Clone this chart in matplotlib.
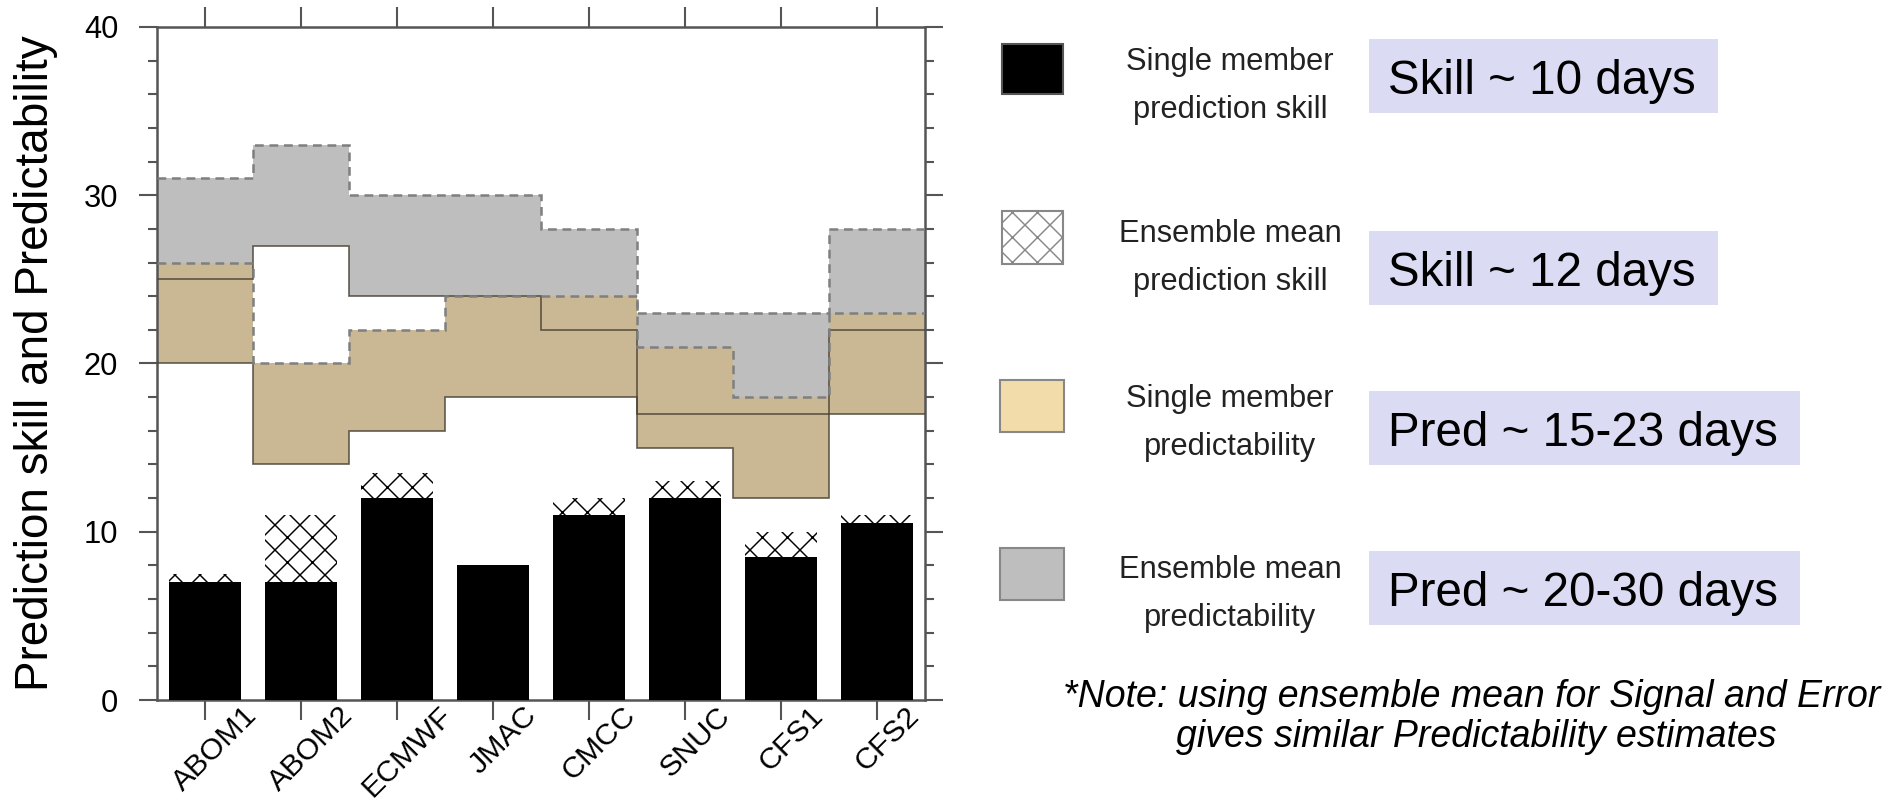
import numpy as np
import matplotlib
matplotlib.use("Agg")
import matplotlib.pyplot as plt
from matplotlib.patches import Rectangle
from matplotlib.ticker import MultipleLocator, FixedLocator
from matplotlib.transforms import ScaledTranslation

plt.rcParams['font.family'] = ['Liberation Sans', 'DejaVu Sans']
plt.rcParams['hatch.linewidth'] = 0.7

# ---------------- data ----------------
categories = ['ABOM1', 'ABOM2', 'ECMWF', 'JMAC', 'CMCC', 'SNUC', 'CFS1', 'CFS2']
sm_skill = [7, 7, 12, 8, 11, 12, 8.5, 10.5]          # single member prediction skill
em_skill = [7.5, 11, 13.5, 8, 12, 13, 10, 11]        # ensemble mean prediction skill
sm_pred_low = [20, 14, 16, 18, 18, 15, 12, 17]       # single member predictability (low)
sm_pred_up = [25, 27, 24, 24, 22, 17, 17, 22]        # single member predictability (high)
em_pred_low = [26, 20, 22, 24, 24, 21, 18, 23]       # ensemble mean predictability (low)
em_pred_up = [31, 33, 30, 30, 28, 23, 23, 28]        # ensemble mean predictability (high)

legend_labels = [('Single member', 'prediction skill'),
                 ('Ensemble mean', 'prediction skill'),
                 ('Single member', 'predictability'),
                 ('Ensemble mean', 'predictability')]
box_texts = ['Skill ~ 10 days', 'Skill ~ 12 days', 'Pred ~ 15-23 days', 'Pred ~ 20-30 days']
note_lines = ['*Note: using ensemble mean for Signal and Error',
              'gives similar Predictability estimates']
ylabel = 'Prediction skill and Predictability'

# ---------------- style ----------------
GRAY = '#bebebe'
TAN = '#c9b893'
TAN_LEG = '#f2dcaa'
SPINE = '#555555'
DPI = 150
W, H = 1900, 806

fig = plt.figure(figsize=(W / DPI, H / DPI), dpi=DPI)
ax = fig.add_axes([157 / W, 106 / H, 768 / W, 673 / H])

x = np.arange(1, len(categories) + 1)
edges = np.arange(0.5, len(categories) + 1, 1.0)

# bands
ax.stairs(em_pred_up, edges, baseline=sm_pred_up, fill=True, color=GRAY, lw=0, zorder=1)
ax.stairs(em_pred_low, edges, baseline=sm_pred_low, fill=True, color=TAN, lw=0, zorder=2)

dash = (0, (3.5, 2.3))
ax.stairs(em_pred_up, edges, baseline=None, color='#7f7f7f', lw=1.2, ls=dash, zorder=4)
ax.stairs(em_pred_low, edges, baseline=None, color='#7f7f7f', lw=1.2, ls=dash, zorder=4)
ax.stairs(sm_pred_up, edges, baseline=None, color='#4a4233', lw=0.8, alpha=0.85, zorder=3)
ax.stairs(sm_pred_low, edges, baseline=None, color='#4a4233', lw=0.8, alpha=0.85, zorder=3)

# bars
bw = 0.76
ax.bar(x, sm_skill, width=bw, color='black', lw=0, zorder=5)
ax.bar(x, np.array(em_skill) - np.array(sm_skill), bottom=sm_skill, width=bw,
       facecolor='white', edgecolor='black', hatch='xx', lw=0, zorder=5)

ax.set_xlim(0.5, len(categories) + 0.5)
ax.set_ylim(0, 40)
ax.xaxis.set_major_locator(FixedLocator(x))
ax.set_xticks(x)
ax.set_xticklabels(categories, rotation=45, ha='center', va='top', fontsize=14.6)
ax.yaxis.set_major_locator(MultipleLocator(10))
ax.yaxis.set_minor_locator(MultipleLocator(2))
ax.tick_params(axis='y', which='major', left=True, right=True, direction='out',
               length=8.6, width=1.0, color=SPINE, labelsize=14.8, pad=10)
ax.tick_params(axis='y', which='minor', left=True, right=True, direction='out',
               length=4.3, width=1.0, color=SPINE)
ax.tick_params(axis='x', which='major', top=True, bottom=True, direction='out',
               length=9.6, width=1.0, color=SPINE, pad=-9)
for s in ax.spines.values():
    s.set_color(SPINE)
    s.set_linewidth(1.2)
off = ScaledTranslation(10 / DPI, 0, fig.dpi_scale_trans)
for lab in ax.get_xticklabels():
    lab.set_transform(lab.get_transform() + off)

fig.text(36 / W, 1 - 363 / H, ylabel, rotation=90, ha='center', va='center', fontsize=22)

# ---------------- legend / annotation overlay ----------------
lax = fig.add_axes([0, 0, 1, 1])
lax.set_xlim(0, W)
lax.set_ylim(H, 0)
lax.axis('off')

sw = [dict(xy=(1002, 44), w=61, h=50, fc='black', ec='#555555', hatch=None),
      dict(xy=(1002, 211), w=61, h=53, fc='white', ec='#888888', hatch='xx'),
      dict(xy=(1000, 380), w=64, h=52, fc=TAN_LEG, ec='#888888', hatch=None),
      dict(xy=(1000, 548), w=64, h=52, fc=GRAY, ec='#888888', hatch=None)]
for s in sw:
    lax.add_patch(Rectangle(s['xy'], s['w'], s['h'], facecolor=s['fc'], edgecolor=s['ec'],
                            hatch=s['hatch'], lw=1.0))

base1 = [70, 242, 407, 578]
for (l1, l2), b in zip(legend_labels, base1):
    lax.text(1230, b, l1, ha='center', va='baseline', fontsize=14.8, color='#222222')
    lax.text(1230, b + 48, l2, ha='center', va='baseline', fontsize=14.8, color='#222222')

boxes = [(1369, 39, 349), (1369, 231, 349), (1369, 391, 431), (1369, 551, 431)]
for (bx, by, bwid), t in zip(boxes, box_texts):
    lax.add_patch(Rectangle((bx, by), bwid, 74, facecolor='#dbdbf3', edgecolor='none'))
    lax.text(bx + 19, by + 55, t, ha='left', va='baseline', fontsize=22.8, color='black')

lax.text(1472, 707, note_lines[0], ha='center', va='baseline', fontsize=18, style='italic')
lax.text(1476, 747, note_lines[1], ha='center', va='baseline', fontsize=18, style='italic')

fig.savefig('out.png', dpi=DPI)
